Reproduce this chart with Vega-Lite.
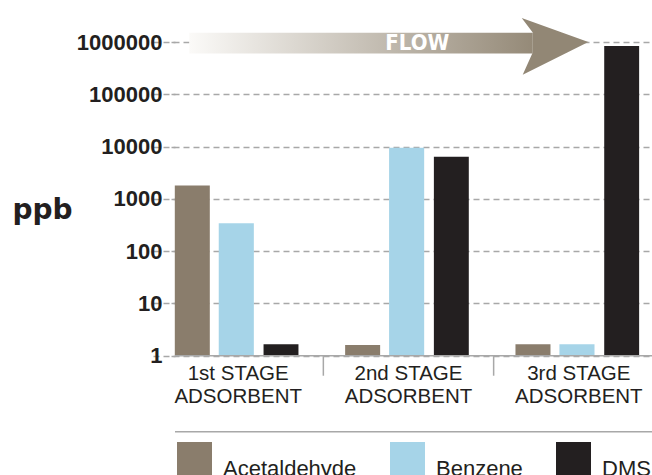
{
  "$schema": "https://vega.github.io/schema/vega-lite/v6.json",
  "width": 477,
  "height": 313.7,
  "autosize": {"type": "none"},
  "padding": {"left": 175, "top": 42, "right": 0, "bottom": 119.3},
  "background": "white",
  "config": {"view": {"stroke": null}, "font": "Liberation Sans"},
  "layer": [
    {
      "data": {
        "values": [
          {"stage": "1st STAGE", "compound": "Acetaldehyde", "ppb": 1800},
          {"stage": "1st STAGE", "compound": "Benzene", "ppb": 340},
          {"stage": "1st STAGE", "compound": "DMS", "ppb": 1.65},
          {"stage": "2nd STAGE", "compound": "Acetaldehyde", "ppb": 1.6},
          {"stage": "2nd STAGE", "compound": "Benzene", "ppb": 9500},
          {"stage": "2nd STAGE", "compound": "DMS", "ppb": 6400},
          {"stage": "3rd STAGE", "compound": "Acetaldehyde", "ppb": 1.65},
          {"stage": "3rd STAGE", "compound": "Benzene", "ppb": 1.65},
          {"stage": "3rd STAGE", "compound": "DMS", "ppb": 840000}
        ]
      },
      "encoding": {
        "y": {
          "field": "ppb", "type": "quantitative", "title": "ppb",
          "scale": {"type": "log", "domain": [1, 1000000], "nice": false},
          "axis": {
            "title": "ppb", "titleAngle": 0, "titleX": -163, "titleY": 176, "titleAlign": "left",
            "titleBaseline": "alphabetic", "titleFont": "DejaVu Sans", "titleFontWeight": "bold",
            "titleFontSize": 28, "titleColor": "#231f20",
            "values": [1, 10, 100, 1000, 10000, 100000, 1000000], "format": "d",
            "labelFont": "Liberation Sans", "labelFontWeight": "bold", "labelFontSize": 22,
            "labelColor": "#231f20", "labelPadding": 9, "tickSize": 4, "tickColor": "#a8a8a8",
            "tickWidth": 1.5, "domain": false, "grid": true, "gridColor": "#a8a8a8", "gridWidth": 1.5,
            "gridDash": [6, 4], "labelOverlap": false, "labelBound": false
          }
        }
      },
      "layer": [
        {
          "transform": [{"filter": {"field": "compound", "equal": "Acetaldehyde"}}],
          "mark": {"type": "rect"},
          "encoding": {
            "x": {
              "field": "stage", "type": "nominal", "bandPosition": 0.128,
              "scale": {"domain": ["1st STAGE", "2nd STAGE", "3rd STAGE"], "range": [-22, 489], "paddingInner": 0, "paddingOuter": 0},
              "axis": {
                "title": null, "domain": false, "ticks": false,
                "labelAngle": 0, "labelExpr": "[datum.label, 'ADSORBENT']",
                "labelFont": "Liberation Sans", "labelFontSize": 20.5, "labelColor": "#231f20",
                "labelBaseline": "top", "labelPadding": 8, "labelLineHeight": 23.3,
                "labelOverlap": false, "labelBound": false
              }
            },
            "x2": {"field": "stage", "bandPosition": 0.3335},
            "y2": {"datum": 1},
            "color": {
              "field": "compound", "type": "nominal",
              "scale": {"domain": ["Acetaldehyde", "Benzene", "DMS"], "range": ["#8a7d6c", "#a6d4e8", "#231f20"]},
              "legend": {
                "orient": "none", "legendX": 2, "legendY": 399.7, "direction": "horizontal", "title": null,
                "symbolType": "square", "symbolSize": 1225, "symbolStrokeWidth": 0, "symbolOpacity": 1,
                "labelFont": "Liberation Sans", "labelFontSize": 22, "labelColor": "#231f20", "labelOffset": 11,
                "columnPadding": 33, "padding": 0, "labelBaseline": "top"
              }
            }
          }
        },
        {
          "transform": [{"filter": {"field": "compound", "equal": "Benzene"}}],
          "mark": {"type": "rect"},
          "encoding": {
            "x": {"field": "stage", "type": "nominal", "bandPosition": 0.386},
            "x2": {"field": "stage", "bandPosition": 0.592},
            "y2": {"datum": 1},
            "color": {"field": "compound", "type": "nominal"}
          }
        },
        {
          "transform": [{"filter": {"field": "compound", "equal": "DMS"}}],
          "mark": {"type": "rect"},
          "encoding": {
            "x": {"field": "stage", "type": "nominal", "bandPosition": 0.649},
            "x2": {"field": "stage", "bandPosition": 0.854},
            "y2": {"datum": 1},
            "color": {"field": "compound", "type": "nominal"}
          }
        }
      ]
    },
    {
      "data": {"values": [{"label": "FLOW"}]},
      "layer": [
        {
          "mark": {
            "type": "rect",
            "fill": {"x1": 0, "y1": 0, "x2": 1, "y2": 0, "gradient": "linear",
              "stops": [{"offset": 0, "color": "#fbfaf8"}, {"offset": 1, "color": "#958a78"}]}
          },
          "encoding": {
            "x": {"datum": 0.03, "type": "quantitative", "scale": {"domain": [0, 1], "nice": false}, "axis": null},
            "x2": {"datum": 0.75},
            "y": {"datum": 1500000, "type": "quantitative", "title": "ppb",
              "scale": {"type": "log", "domain": [1, 1000000], "nice": false}},
            "y2": {"datum": 605000}
          }
        },
        {
          "mark": {
            "type": "point", "filled": true, "opacity": 1,
            "shape": "M0,0L-2.018,-0.727L-1.685,-0.291L-1.685,0.315L-1.988,0.991Z",
            "size": 4356, "fill": "#928775", "strokeWidth": 0
          },
          "encoding": {
            "x": {"datum": 0.8665, "type": "quantitative"},
            "y": {"datum": 1000000, "type": "quantitative", "title": "ppb"}
          }
        },
        {
          "mark": {
            "type": "text", "font": "DejaVu Sans Condensed", "fontWeight": "bold", "fontSize": 22,
            "color": "white", "align": "center", "baseline": "middle"
          },
          "encoding": {
            "x": {"datum": 0.508, "type": "quantitative"},
            "y": {"datum": 940000, "type": "quantitative", "title": "ppb"},
            "text": {"field": "label"}
          }
        },
        {
          "mark": {"type": "rule", "color": "#a8a8a8", "strokeWidth": 1.5},
          "encoding": {
            "x": {"datum": 0, "type": "quantitative"},
            "x2": {"datum": 1},
            "y": {"datum": 1, "type": "quantitative", "title": "ppb"}
          }
        },
        {
          "mark": {"type": "rule", "color": "#a8a8a8", "strokeWidth": 1.5},
          "encoding": {
            "x": {"datum": 0, "type": "quantitative"},
            "x2": {"datum": 1},
            "y": {"datum": 0.0352, "type": "quantitative", "title": "ppb"}
          }
        },
        {
          "mark": {"type": "rule", "color": "#a8a8a8", "strokeWidth": 1.5},
          "encoding": {
            "x": {"datum": 0.311, "type": "quantitative"},
            "y": {"datum": 1, "type": "quantitative", "title": "ppb"},
            "y2": {"datum": 0.414}
          }
        },
        {
          "mark": {"type": "rule", "color": "#a8a8a8", "strokeWidth": 1.5},
          "encoding": {
            "x": {"datum": 0.668, "type": "quantitative"},
            "y": {"datum": 1, "type": "quantitative", "title": "ppb"},
            "y2": {"datum": 0.414}
          }
        }
      ]
    }
  ],
  "resolve": {"scale": {"x": "independent"}, "axis": {"x": "independent"}}
}
